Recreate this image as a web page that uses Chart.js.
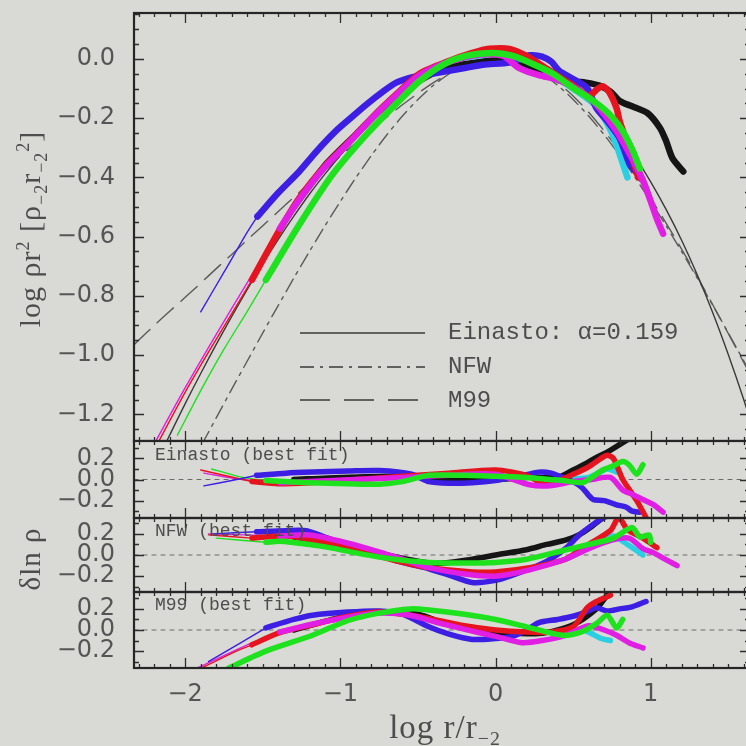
<!DOCTYPE html>
<html lang="en">
<head>
<meta charset="UTF-8">
<title>Halo density profiles</title>
<script src="https://cdn.jsdelivr.net/npm/chart.js@4.4.1/dist/chart.umd.min.js"></script>
<style>
  html, body { margin: 0; padding: 0; }
  body { width: 746px; height: 746px; overflow: hidden; background: #d9d9d5; position: relative;
         font-family: "Liberation Serif", "DejaVu Serif", serif; color: #4d4d4d; }
  .panel { position: absolute; left: 0; width: 760px; }
  .lbl { position: absolute; white-space: nowrap; line-height: 1; z-index: 5; }
  .mono { font-family: "Liberation Mono", "DejaVu Sans Mono", monospace; }
  .rot { transform: translate(-50%, -50%) rotate(-90deg); }
  .ctr { transform: translate(-50%, -50%); }
  .mid { transform: translateY(-50%); }
  sub, sup { font-size: 60%; line-height: 0; }
</style>
</head>
<body>
  <div class="panel" style="top:0px;height:442px"><canvas id="main" width="760" height="442"></canvas></div>
  <div class="panel" style="top:431px;height:97px"><canvas id="resE" width="760" height="97"></canvas></div>
  <div class="panel" style="top:508px;height:94px"><canvas id="resN" width="760" height="94"></canvas></div>
  <div class="panel" style="top:582px;height:164px"><canvas id="resM" width="760" height="164"></canvas></div>

  <div class="lbl rot" style="left:30px;top:229px;font-size:30px;letter-spacing:1px">log &rho;r<sup>2</sup> [&rho;<sub>&minus;2</sub>r<sub>&minus;2</sub><sup>2</sup>]</div>
  <div class="lbl rot" style="left:30px;top:559px;font-size:29px;letter-spacing:1px">&delta;ln &rho;</div>
  <div class="lbl ctr" style="left:445px;top:727px;font-size:33px;letter-spacing:1px">log r/r<sub>&minus;2</sub></div>

  <div class="lbl mono mid" style="left:448px;top:333px;font-size:24px">Einasto: &alpha;=0.159</div>
  <div class="lbl mono mid" style="left:448px;top:367px;font-size:24px">NFW</div>
  <div class="lbl mono mid" style="left:448px;top:401px;font-size:24px">M99</div>

  <div class="lbl mono mid" style="left:155px;top:455px;font-size:18px">Einasto (best fit)</div>
  <div class="lbl mono mid" style="left:155px;top:531px;font-size:18px">NFW (best fit)</div>
  <div class="lbl mono mid" style="left:155px;top:605px;font-size:18px">M99 (best fit)</div>

<script>
// x range (log r/r-2) shared by all panels
const X_MIN = -2.33, X_MAX = 1.64;

// model curves, log(rho r^2) normalised at r-2
const modelX  = [-2.33, -2.2, -2.1, -2.0, -1.9, -1.8, -1.7, -1.6, -1.5, -1.4, -1.3, -1.2, -1.1, -1.0, -0.9, -0.8, -0.7, -0.6, -0.5, -0.4, -0.3, -0.2, -0.1, 0, 0.1, 0.2, 0.3, 0.4, 0.5, 0.6, 0.7, 0.8, 0.9, 1.0, 1.1, 1.2, 1.3, 1.4, 1.5, 1.6, 1.7];
const einasto = [-1.525, -1.379, -1.270, -1.164, -1.062, -0.964, -0.869, -0.778, -0.691, -0.609, -0.531, -0.457, -0.389, -0.325, -0.267, -0.213, -0.165, -0.123, -0.087, -0.057, -0.032, -0.015, -0.004, 0, -0.004, -0.015, -0.034, -0.062, -0.097, -0.142, -0.195, -0.258, -0.331, -0.415, -0.509, -0.613, -0.729, -0.857, -0.998, -1.151, -1.317];
const nfw     = [-1.732, -1.603, -1.505, -1.407, -1.309, -1.212, -1.115, -1.020, -0.925, -0.832, -0.740, -0.651, -0.564, -0.481, -0.401, -0.326, -0.256, -0.193, -0.137, -0.089, -0.051, -0.023, -0.006, 0, -0.006, -0.023, -0.051, -0.089, -0.137, -0.193, -0.256, -0.326, -0.401, -0.481, -0.564, -0.651, -0.740, -0.832, -0.925, -1.020, -1.115];
const m99     = [-0.965, -0.900, -0.852, -0.805, -0.757, -0.708, -0.660, -0.611, -0.563, -0.515, -0.467, -0.420, -0.374, -0.328, -0.283, -0.239, -0.196, -0.155, -0.116, -0.080, -0.049, -0.024, -0.007, 0, -0.005, -0.020, -0.045, -0.080, -0.125, -0.180, -0.243, -0.313, -0.390, -0.470, -0.555, -0.643, -0.735, -0.830, -0.927, -1.025, -1.125];

// halo profiles [log r/r-2, log rho r^2]
const blueMain    = [[-1.535,-0.532],[-1.4,-0.452],[-1.265,-0.38],[-1.15,-0.31],[-1.03,-0.244],[-0.93,-0.198],[-0.83,-0.153],[-0.73,-0.112],[-0.64,-0.08],[-0.52,-0.06],[-0.41,-0.05],[-0.3,-0.04],[-0.19,-0.03],[-0.08,-0.02],[0.09,-0.012],[0.16,0],[0.22,0.012],[0.3,0.008],[0.36,-0.01],[0.41,-0.04],[0.5,-0.068],[0.59,-0.098],[0.65,-0.166],[0.72,-0.21],[0.8,-0.268],[0.865,-0.356],[0.92,-0.39]];
const redMain     = [[-1.57,-0.746],[-1.4,-0.585],[-1.265,-0.47],[-1.1,-0.362],[-0.94,-0.278],[-0.78,-0.19],[-0.63,-0.115],[-0.49,-0.05],[-0.3,-0.007],[-0.15,0.02],[-0.04,0.034],[0.09,0.034],[0.2,0.01],[0.35,-0.04],[0.5,-0.09],[0.6,-0.125],[0.66,-0.1],[0.69,-0.092],[0.73,-0.11],[0.78,-0.166],[0.8,-0.21],[0.86,-0.3],[0.92,-0.4]];
const magentaMain = [[-1.39,-0.573],[-1.265,-0.475],[-1.1,-0.365],[-0.94,-0.28],[-0.78,-0.192],[-0.63,-0.118],[-0.49,-0.055],[-0.3,-0.01],[-0.1,0.015],[0.05,0.01],[0.15,-0.03],[0.28,-0.055],[0.4,-0.07],[0.5,-0.095],[0.6,-0.13],[0.67,-0.166],[0.78,-0.244],[0.88,-0.335],[0.95,-0.41],[1.0,-0.48],[1.04,-0.54],[1.08,-0.59]];
const greenMain   = [[-1.48,-0.746],[-1.265,-0.56],[-1.05,-0.39],[-0.83,-0.254],[-0.63,-0.146],[-0.49,-0.075],[-0.34,-0.02],[-0.19,0.01],[-0.02,0.02],[0.11,0.01],[0.24,-0.017],[0.37,-0.05],[0.5,-0.098],[0.63,-0.142],[0.74,-0.19],[0.82,-0.244],[0.885,-0.31],[0.93,-0.37]];
const blackMain   = [[-1.3,-0.5],[-1.1,-0.36],[-0.9,-0.255],[-0.7,-0.15],[-0.5,-0.07],[-0.3,-0.03],[-0.1,-0.01],[0.1,-0.005],[0.3,-0.04],[0.5,-0.075],[0.58,-0.08],[0.67,-0.09],[0.74,-0.11],[0.8,-0.142],[0.88,-0.16],[0.98,-0.183],[1.06,-0.233],[1.1,-0.278],[1.14,-0.335],[1.21,-0.38]];
const cyanMain    = [[-0.2,0.005],[0,0.02],[0.11,0.027],[0.3,-0.03],[0.5,-0.1],[0.65,-0.16],[0.75,-0.25],[0.85,-0.4]];

// per-halo Einasto fits continued inwards
const blueFit    = [[-1.9,-0.854],[-1.75,-0.72],[-1.6,-0.585],[-1.535,-0.532]];
const redFit     = [[-2.2,-1.32],[-2.0,-1.125],[-1.85,-0.99],[-1.7,-0.86],[-1.57,-0.746]];
const magentaFit = [[-2.2,-1.3],[-2.0,-1.11],[-1.8,-0.93],[-1.6,-0.755],[-1.39,-0.573]];
const greenFit   = [[-2.05,-1.27],[-1.9,-1.12],[-1.75,-0.98],[-1.6,-0.852],[-1.48,-0.746]];

// residuals from the Einasto best fit
const eBlue    = [[-1.54,0.04],[-1.35,0.06],[-1.18,0.07],[-0.95,0.08],[-0.75,0.085],[-0.54,0.05],[-0.43,-0.02],[-0.3,-0.035],[-0.15,-0.03],[0,-0.01],[0.15,0.03],[0.28,0.07],[0.36,0.06],[0.43,0.02],[0.5,-0.02],[0.56,-0.08],[0.6,-0.15],[0.63,-0.19],[0.7,-0.2],[0.78,-0.24],[0.84,-0.26],[0.88,-0.3],[0.93,-0.31]];
const eGreen   = [[-1.48,-0.01],[-1.2,-0.03],[-0.95,-0.04],[-0.75,-0.045],[-0.6,-0.02],[-0.43,0.04],[-0.2,0.04],[0,0.03],[0.2,0.02],[0.43,-0.01],[0.56,-0.03],[0.62,0.02],[0.69,0.09],[0.76,0.13],[0.82,0.17],[0.86,0.14],[0.91,0.05],[0.95,0.14]];
const eRed     = [[-1.57,-0.02],[-1.4,-0.04],[-1.2,-0.03],[-0.9,0],[-0.6,0.03],[-0.3,0.06],[0,0.09],[0.2,0.04],[0.33,-0.05],[0.5,0.05],[0.6,0.12],[0.68,0.2],[0.72,0.23],[0.76,0.2],[0.82,0],[0.91,-0.2],[0.97,-0.36]];
const eMagenta = [[-1.39,-0.03],[-1.2,-0.02],[-0.9,0],[-0.6,0.02],[-0.3,0.04],[0,0.05],[0.22,-0.05],[0.35,-0.06],[0.5,-0.02],[0.62,0],[0.74,0.02],[0.82,-0.1],[0.88,-0.14],[0.95,-0.19],[1.02,-0.24],[1.08,-0.31]];
const eBlack   = [[-1.3,0],[-1,0.02],[-0.6,0.03],[-0.3,0],[0,0],[0.2,0.02],[0.4,0.02],[0.5,0.09],[0.58,0.15],[0.65,0.21],[0.72,0.26],[0.82,0.35],[0.9,0.42]];
const eCyan    = [[0.4,0],[0.6,0.02],[0.72,0.1],[0.8,0.06]];
const eBlueFit = [[-1.88,-0.06],[-1.7,-0.01],[-1.54,0.04]];
const eRedFit  = [[-1.9,0.09],[-1.63,0],[-1.57,-0.02]];
const eMagentaFit = [[-1.88,0.06],[-1.63,0],[-1.39,-0.03]];
const eGreenFit   = [[-1.83,0.1],[-1.63,0.02],[-1.48,-0.01]];

// residuals from the NFW best fit
const nBlue    = [[-1.54,0.22],[-1.35,0.23],[-1.22,0.23],[-1.1,0.17],[-0.96,0.1],[-0.75,0],[-0.6,-0.07],[-0.43,-0.13],[-0.3,-0.19],[-0.15,-0.26],[0,-0.24],[0.11,-0.19],[0.22,-0.13],[0.33,-0.06],[0.45,0.06],[0.54,0.19],[0.62,0.28],[0.69,0.35],[0.73,0.37]];
const nGreen   = [[-1.48,0.12],[-1.39,0.13],[-1.2,0.1],[-1.07,0.07],[-0.9,0.02],[-0.75,-0.02],[-0.6,-0.05],[-0.43,-0.07],[-0.2,-0.075],[0,-0.07],[0.2,-0.04],[0.43,0.04],[0.6,0.1],[0.76,0.16],[0.88,0.26],[0.93,0.17],[0.99,0.19],[1.0,0.12]];
const nRed     = [[-1.57,0.16],[-1.35,0.18],[-1.1,0.12],[-0.9,0.05],[-0.6,-0.07],[-0.43,-0.12],[-0.15,-0.16],[0,-0.16],[0.22,-0.12],[0.45,-0.04],[0.6,0.1],[0.74,0.23],[0.78,0.33],[0.8,0.35],[0.85,0.24],[0.95,0.16],[1.04,0.07]];
const nMagenta = [[-1.39,0.18],[-1.2,0.19],[-1,0.13],[-0.8,0.05],[-0.6,-0.04],[-0.43,-0.12],[-0.2,-0.18],[0,-0.2],[0.22,-0.14],[0.45,-0.04],[0.6,0.06],[0.75,0.14],[0.86,0.16],[0.95,0.06],[1.02,0.02],[1.08,-0.03],[1.17,-0.1]];
const nBlack   = [[-1.3,0.17],[-1,0.1],[-0.7,0],[-0.4,-0.08],[-0.15,-0.04],[0,0],[0.2,0.05],[0.33,0.1],[0.45,0.14],[0.55,0.2],[0.62,0.27],[0.69,0.35]];
const nCyan    = [[0.5,0.05],[0.65,0.12],[0.76,0.18],[0.82,0.13],[0.88,0.07],[0.95,0]];
const nBlueFit = [[-1.82,0.2],[-1.54,0.22]];
const nRedFit  = [[-1.85,0.19],[-1.57,0.16]];
const nMagentaFit = [[-1.85,0.2],[-1.39,0.18]];
const nGreenFit   = [[-1.8,0.16],[-1.48,0.12]];

// residuals from the M99 best fit
const mBlue    = [[-1.48,0.02],[-1.3,0.1],[-1.18,0.14],[-0.95,0.17],[-0.75,0.18],[-0.6,0.15],[-0.43,0.03],[-0.3,-0.04],[-0.15,-0.09],[0,-0.08],[0.11,-0.06],[0.2,0],[0.28,0.07],[0.4,0.1],[0.5,0.13],[0.58,0.17],[0.65,0.21],[0.72,0.18],[0.8,0.2],[0.88,0.22],[0.97,0.27]];
const mRed     = [[-1.57,-0.14],[-1.4,-0.03],[-1.18,0.05],[-0.95,0.13],[-0.75,0.17],[-0.55,0.14],[-0.43,0.11],[-0.2,0.04],[0,0],[0.2,-0.02],[0.35,-0.02],[0.5,0.03],[0.59,0.21],[0.65,0.27],[0.74,0.33]];
const mMagenta = [[-1.39,-0.02],[-1.2,0.05],[-0.95,0.12],[-0.75,0.16],[-0.55,0.14],[-0.35,0.06],[-0.15,-0.01],[0,-0.06],[0.17,-0.12],[0.3,-0.1],[0.45,-0.05],[0.6,0.04],[0.7,0],[0.78,-0.05],[0.86,-0.12],[0.95,-0.17]];
const mGreen   = [[-1.72,-0.36],[-1.48,-0.2],[-1.18,-0.05],[-0.95,0.09],[-0.75,0.16],[-0.55,0.2],[-0.43,0.19],[-0.2,0.15],[0,0.1],[0.2,0.03],[0.43,-0.05],[0.55,-0.02],[0.65,0.06],[0.72,0.14],[0.78,0.02],[0.82,0.1]];
const mBlack   = [[-1.3,0],[-1,0.12],[-0.75,0.17],[-0.5,0.15],[-0.3,0.05],[0,-0.02],[0.3,-0.03],[0.5,0.05],[0.65,0.2],[0.72,0.33],[0.76,0.4]];
const mCyan    = [[0.45,-0.04],[0.55,0],[0.6,-0.02],[0.68,-0.08],[0.74,-0.1]];
const mBlueFit = [[-1.85,-0.3],[-1.48,0.02]];
const mRedFit  = [[-1.95,-0.4],[-1.67,-0.2],[-1.57,-0.14]];
const mMagentaFit = [[-1.95,-0.38],[-1.6,-0.14],[-1.39,-0.02]];
const mGreenFit   = [[-1.85,-0.45],[-1.72,-0.36]];

const C = { blue: '#3c1ee4', red: '#e6141e', magenta: '#e01ee4', green: '#1ee21e', cyan: '#2ad0e2', black: '#151515' };
const MINUS = '\u2212';

function pts(pairs) { return pairs.map(p => ({ x: p[0], y: p[1] })); }
function line(data, color, width, order, extra) {
  return Object.assign({ data, borderColor: color, borderWidth: width, pointRadius: 0, fill: false,
    tension: 0.25, borderCapStyle: 'round', borderJoinStyle: 'round', order }, extra || {});
}
function halos(b, r, m, g, k, c, w) {
  return [
    line(pts(g), C.green, w, 1), line(pts(m), C.magenta, w, 2), line(pts(r), C.red, w, 3),
    line(pts(b), C.blue, w, 4), line(pts(c), C.cyan, w, 5), line(pts(k), C.black, w, 6)
  ];
}
function fits(b, r, m, g) {
  return [
    line(pts(b), C.blue, 1.4, 20), line(pts(r), C.red, 1.4, 21),
    line(pts(m), C.magenta, 1.4, 22), line(pts(g), C.green, 1.4, 23)
  ];
}
function zeroLine() {
  return line([{ x: X_MIN, y: 0 }, { x: X_MAX, y: 0 }], '#6a6a6a', 1, 40, { borderDash: [4, 5], tension: 0 });
}
function fmtY(v) { return Math.abs(v) < 1e-9 ? '0.0' : (v < 0 ? MINUS : '') + Math.abs(v).toFixed(1); }

// frame with inward major/minor ticks on all four sides, plus optional legend samples
const frameTicks = {
  id: 'frameTicks',
  afterDatasetsDraw(chart, args, o) {
    const { ctx, chartArea: a, scales: { x, y } } = chart;
    ctx.save();
    ctx.strokeStyle = '#2e2e2e';
    ctx.lineWidth = 1.3;
    ctx.beginPath();
    for (let i = -23; i <= 16; i++) {
      const px = Math.round(x.getPixelForValue(i / 10)) + 0.5;
      const len = i % 10 === 0 ? 10 : 4;
      ctx.moveTo(px, a.top); ctx.lineTo(px, a.top + len);
      ctx.moveTo(px, a.bottom); ctx.lineTo(px, a.bottom - len);
    }
    const n0 = Math.ceil(y.min / o.yMinor - 1e-6), n1 = Math.floor(y.max / o.yMinor + 1e-6);
    for (let n = n0; n <= n1; n++) {
      const py = Math.round(y.getPixelForValue(n * o.yMinor)) + 0.5;
      const len = n % o.majorEvery === 0 ? 10 : 5;
      ctx.moveTo(a.left, py); ctx.lineTo(a.left + len, py);
      ctx.moveTo(a.right, py); ctx.lineTo(a.right - len, py);
    }
    ctx.stroke();
    ctx.lineWidth = 2.2;
    ctx.strokeStyle = '#262626';
    ctx.strokeRect(a.left, a.top, a.width, a.height);
    (o.legend || []).forEach(k => {
      ctx.beginPath();
      ctx.lineWidth = 1.5;
      ctx.strokeStyle = '#3a3a3a';
      ctx.setLineDash(k.dash);
      ctx.moveTo(k.x0, k.y); ctx.lineTo(k.x1, k.y);
      ctx.stroke();
    });
    ctx.restore();
  }
};

const tickFont = { family: '"DejaVu Sans", sans-serif', size: 24 };

function panel(id, pad, yMin, yMax, yMinor, majorEvery, datasets, showX, legend) {
  return new Chart(document.getElementById(id), {
    type: 'line',
    data: { datasets },
    options: {
      responsive: false, animation: false, events: [],
      layout: { padding: { top: pad[0], bottom: pad[1], left: 0, right: 10 } },
      plugins: { legend: { display: false }, tooltip: { enabled: false },
                 frameTicks: { yMinor, majorEvery, legend } },
      scales: {
        x: {
          type: 'linear', min: X_MIN, max: X_MAX, display: showX,
          grid: { display: false }, border: { display: false },
          afterFit: s => { s.height = showX ? 78 : 0; s.paddingLeft = 0; s.paddingRight = 0; },
          ticks: { stepSize: 1, includeBounds: false, autoSkip: false, padding: 4, color: '#555', font: tickFont,
                   callback: v => (v < 0 ? MINUS : '') + Math.abs(v).toFixed(0) }
        },
        y: {
          min: yMin, max: yMax,
          grid: { display: false }, border: { display: false },
          afterFit: s => { s.width = 134; s.paddingTop = 0; s.paddingBottom = 0; },
          ticks: { stepSize: 0.2, includeBounds: false, autoSkip: false, padding: 11, color: '#555', font: tickFont,
                   callback: fmtY }
        }
      }
    },
    plugins: [frameTicks]
  });
}

const modelSets = [
  line(modelX.map((x, i) => ({ x, y: einasto[i] })), '#3a3a3a', 1.4, 30),
  line(modelX.map((x, i) => ({ x, y: nfw[i] })), '#5a5a5a', 1.4, 31, { borderDash: [14, 6, 3, 6] }),
  line(modelX.map((x, i) => ({ x, y: m99[i] })), '#5a5a5a', 1.4, 32, { borderDash: [22, 10] })
];

panel('main', [13, 1], -1.29, 0.155, 0.05, 4,
  halos(blueMain, redMain, magentaMain, greenMain, blackMain, cyanMain, 6.5)
    .concat(fits(blueFit, redFit, magentaFit, greenFit), modelSets),
  false,
  [{ x0: 300, x1: 425, y: 333, dash: [] },
   { x0: 300, x1: 425, y: 367, dash: [14, 6, 3, 6] },
   { x0: 300, x1: 425, y: 400, dash: [30, 14] }]);

panel('resE', [10, 10], -0.365, 0.365, 0.1, 2,
  halos(eBlue, eRed, eMagenta, eGreen, eBlack, eCyan, 5.5)
    .concat(fits(eBlueFit, eRedFit, eMagentaFit, eGreenFit), [zeroLine()]), false);

panel('resN', [10, 10], -0.35, 0.35, 0.1, 2,
  halos(nBlue, nRed, nMagenta, nGreen, nBlack, nCyan, 5.5)
    .concat(fits(nBlueFit, nRedFit, nMagentaFit, nGreenFit), [zeroLine()]), false);

panel('resM', [10, 0], -0.36, 0.36, 0.1, 2,
  halos(mBlue, mRed, mMagenta, mGreen, mBlack, mCyan, 5.5)
    .concat(fits(mBlueFit, mRedFit, mMagentaFit, mGreenFit), [zeroLine()]), true);
</script>
</body>
</html>
